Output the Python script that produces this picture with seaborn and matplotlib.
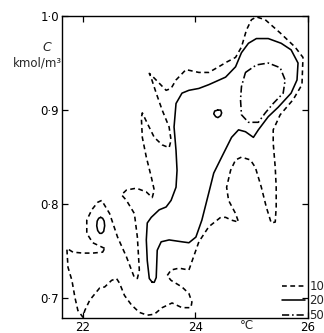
import numpy as np
import pandas as pd
import matplotlib
matplotlib.use('Agg')
import matplotlib.pyplot as plt
from matplotlib.lines import Line2D
import seaborn as sns

# contour traces (temperature in deg C, concentration in kmol/m3)
# level 10 - one big closed dashed loop
t10 = [22.388, 22.176, 22.070, 22.070, 22.159, 22.264, 22.335, 22.476, 22.617, 22.775,
       22.916, 22.969, 23.004, 22.969, 22.916, 22.775, 22.687, 22.775, 22.951, 23.128,
       23.233, 23.269, 23.216, 23.128, 23.057, 23.040, 23.057, 23.145, 23.269, 23.410,
       23.533, 23.568, 23.533, 23.410, 23.304, 23.216, 23.181, 23.269, 23.480, 23.568,
       23.656, 23.833, 24.062, 24.238, 24.414, 24.555, 24.714, 24.819, 24.907, 24.996,
       25.084, 25.242, 25.507, 25.771, 25.912, 25.894, 25.736, 25.507, 25.383, 25.383,
       25.419, 25.436, 25.436, 25.419, 25.348, 25.260, 25.172, 25.066, 24.978, 24.819,
       24.714, 24.626, 24.555, 24.590, 24.714, 24.767, 24.643, 24.537, 24.449, 24.238,
       24.062, 23.885, 23.709, 23.568, 23.498, 23.568, 23.762, 23.885, 23.938, 23.921,
       23.762, 23.586, 23.410, 23.269, 23.145, 23.004, 22.863, 22.740, 22.652, 22.599,
       22.511, 22.388, 22.300, 22.123, 22.035, 22.000, 21.912, 21.859, 21.806, 21.736,
       21.718, 21.718, 21.824, 22.000, 22.176, 22.352]
c10 = [0.753, 0.759, 0.769, 0.783, 0.794, 0.802, 0.804, 0.790, 0.765, 0.744,
       0.722, 0.721, 0.730, 0.765, 0.790, 0.804, 0.810, 0.815, 0.817, 0.813,
       0.807, 0.815, 0.829, 0.850, 0.871, 0.892, 0.897, 0.886, 0.871, 0.863,
       0.860, 0.868, 0.882, 0.900, 0.918, 0.934, 0.939, 0.934, 0.921, 0.923,
       0.932, 0.943, 0.940, 0.940, 0.946, 0.951, 0.956, 0.967, 0.985, 0.996,
       0.999, 0.996, 0.982, 0.967, 0.956, 0.927, 0.911, 0.895, 0.879, 0.865,
       0.839, 0.818, 0.797, 0.781, 0.780, 0.797, 0.818, 0.839, 0.847, 0.850,
       0.847, 0.836, 0.818, 0.804, 0.790, 0.781, 0.783, 0.786, 0.786, 0.776,
       0.760, 0.730, 0.732, 0.730, 0.724, 0.719, 0.712, 0.705, 0.696, 0.690,
       0.690, 0.695, 0.690, 0.683, 0.682, 0.685, 0.693, 0.703, 0.716, 0.721,
       0.719, 0.712, 0.711, 0.698, 0.687, 0.680, 0.687, 0.701, 0.719, 0.733,
       0.751, 0.753, 0.749, 0.748, 0.748, 0.749]

# level 20 - main solid loop plus two small islands
t20 = [23.233, 23.181, 23.145, 23.128, 23.145, 23.216, 23.357, 23.480, 23.568, 23.656,
       23.674, 23.656, 23.621, 23.656, 23.762, 23.885, 24.062, 24.238, 24.537, 24.714,
       24.819, 24.943, 25.084, 25.295, 25.524, 25.701, 25.824, 25.806, 25.701, 25.471,
       25.295, 25.119, 25.031, 24.890, 24.767, 24.643, 24.467, 24.326, 24.238, 24.115,
       24.009, 23.885, 23.762, 23.533, 23.392, 23.322, 23.304, 23.269]
c20 = [0.717, 0.721, 0.740, 0.762, 0.780, 0.786, 0.794, 0.797, 0.804, 0.818,
       0.836, 0.857, 0.882, 0.907, 0.918, 0.921, 0.923, 0.927, 0.935, 0.946,
       0.961, 0.971, 0.976, 0.976, 0.971, 0.964, 0.950, 0.932, 0.918, 0.903,
       0.893, 0.879, 0.871, 0.877, 0.879, 0.871, 0.850, 0.833, 0.812, 0.783,
       0.765, 0.759, 0.760, 0.762, 0.760, 0.751, 0.722, 0.717]
t20_left = [22.317, 22.352, 22.379, 22.388, 22.370, 22.335, 22.300, 22.264, 22.247, 22.255, 22.282]
c20_left = [0.786, 0.785, 0.782, 0.777, 0.771, 0.769, 0.769, 0.772, 0.777, 0.782, 0.785]
t20_spot = [24.396, 24.449, 24.467, 24.449, 24.400, 24.361, 24.326, 24.343]
c20_spot = [0.900, 0.900, 0.897, 0.894, 0.892, 0.893, 0.896, 0.899]

# level 50 - dash-dot loop
t50 = [24.890, 25.084, 25.295, 25.507, 25.595, 25.560, 25.383, 25.242, 25.119, 24.943,
       24.819, 24.802, 24.819]
c50 = [0.940, 0.948, 0.950, 0.945, 0.932, 0.918, 0.907, 0.897, 0.887, 0.887,
       0.895, 0.911, 0.925]

levels = ['10', '20', '50']
xticks = [22, 24, 26]
yticks = [0.7, 0.8, 0.9, 1.0]
ytick_labels = ['0·7', '0·8', '0·9', '1·0']

# build one long table, each path closed on itself
paths = [('a', '10', t10, c10), ('b', '20', t20, c20), ('c', '20', t20_left, c20_left),
         ('d', '20', t20_spot, c20_spot), ('e', '50', t50, c50)]
rows = []
for name, lev, tt, cc in paths:
    tt = list(tt) + [tt[0]]
    cc = list(cc) + [cc[0]]
    for i, (t, c) in enumerate(zip(tt, cc)):
        rows.append({'temp': t, 'conc': c, 'level': lev, 'path': name, 'order': i})
df = pd.DataFrame(rows)

sns.set_style('ticks')
plt.rcParams['font.family'] = ['DejaVu Sans']

dash_map = {'10': (3, 2.2), '20': '', '50': (4.5, 1.8, 1, 1.8)}

fig = plt.figure(figsize=(3.24, 3.33), dpi=100)
ax = fig.add_axes([0.1914, 0.045, 0.759, 0.907])

sns.lineplot(data=df, x='temp', y='conc', units='path', style='level', dashes=dash_map,
             estimator=None, sort=False, color='black', linewidth=1.15, legend=False, ax=ax)

ax.set_xlim(21.63, 26.0)
ax.set_ylim(0.679, 1.0)
ax.set_xticks(xticks)
ax.set_xticklabels([str(x) for x in xticks])
ax.set_yticks(yticks)
ax.set_yticklabels(ytick_labels)
ax.tick_params(direction='in', length=4, width=0.9, top=True, right=True,
               labelsize=8.5, pad=2, colors='black')
for sp in ax.spines.values():
    sp.set_visible(True)
    sp.set_color('black')
    sp.set_linewidth(1.0)

ax.set_xlabel('°C', fontsize=8.5)
ax.xaxis.set_label_coords(0.752, -0.004)
ax.set_ylabel('')
ax.text(-0.06, 0.894, 'C', transform=ax.transAxes, ha='center', va='center',
        fontsize=9, style='italic')
ax.text(0.0, 0.845, 'kmol/m³', transform=ax.transAxes, ha='right', va='center', fontsize=8.5)

handles = [Line2D([], [], color='black', lw=1.15, dashes=(3, 2.2)),
           Line2D([], [], color='black', lw=1.15),
           Line2D([], [], color='black', lw=1.15, dashes=(4.5, 1.8, 1, 1.8))]
leg = ax.legend(handles, levels, loc='lower left', bbox_to_anchor=(0.894, -0.012),
                frameon=False, fontsize=8.5, handlelength=2.0, handletextpad=0.35,
                labelspacing=0.1, borderpad=0, borderaxespad=0)

fig.savefig('out.png', dpi=100)
